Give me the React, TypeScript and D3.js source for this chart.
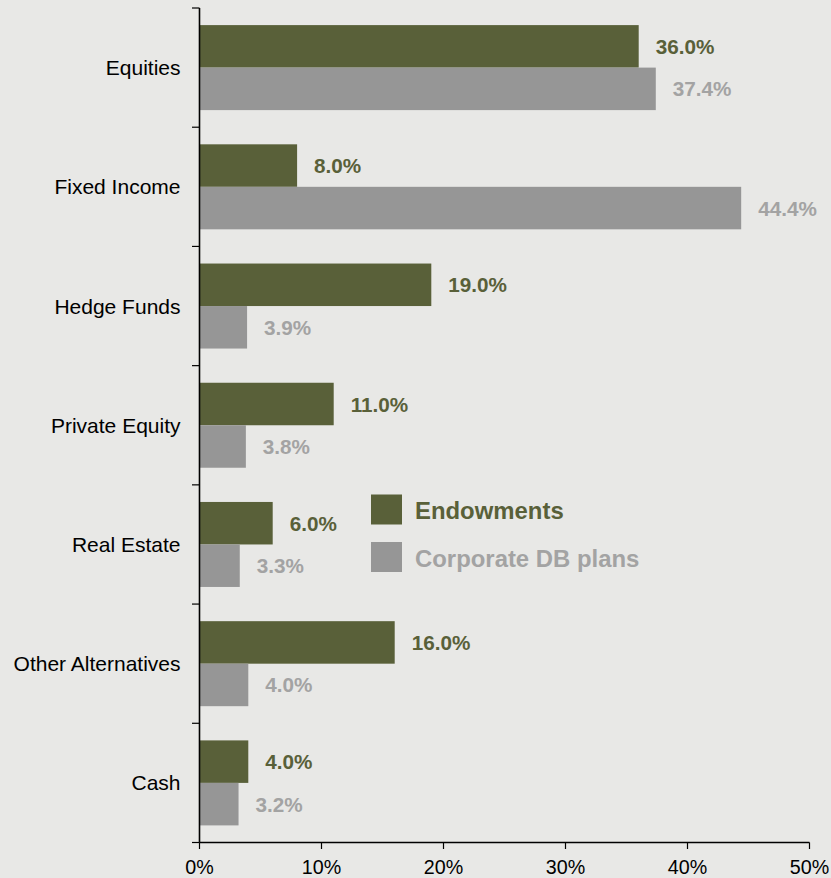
import React from "react";
import * as d3 from "d3";

const categories = ["Equities", "Fixed Income", "Hedge Funds", "Private Equity", "Real Estate", "Other Alternatives", "Cash"];
const endowments = [36.0, 8.0, 19.0, 11.0, 6.0, 16.0, 4.0];
const corporateDB = [37.4, 44.4, 3.9, 3.8, 3.3, 4.0, 3.2];
const seriesNames = ["Endowments", "Corporate DB plans"];
const xTicks = [0, 10, 20, 30, 40, 50];

const W = 831;
const H = 878;
const GREEN = "#596039";
const GRAY = "#969696";
const GRAY_TEXT = "#a3a3a3";
const BG = "#e8e8e6";
const FONT = "'Liberation Sans', Arial, sans-serif";

export default function App() {
  const x0 = 199.5;
  const x = d3.scaleLinear().domain([0, 50]).range([x0, 809.5]);
  const yTop = 8;
  const yBot = 842.5;
  const pI = 1 - 85 / ((yBot - yTop) / categories.length);
  const y = d3.scaleBand<string>().domain(categories).range([yTop, yBot]).paddingInner(pI).paddingOuter(pI / 2);
  const ys = d3.scaleBand<string>().domain(seriesNames).range([0, y.bandwidth()]);
  const step = y.step();
  const boundaries = d3.range(categories.length + 1).map((i) => yTop + i * step);
  const series = [
    { name: seriesNames[0], values: endowments, color: GREEN, text: GREEN },
    { name: seriesNames[1], values: corporateDB, color: GRAY, text: GRAY_TEXT },
  ];

  return (
    <svg width={W} height={H} style={{ position: "absolute", left: 0, top: 0, display: "block" }} fontFamily={FONT}>
      <rect x={0} y={0} width={W} height={H} fill={BG} />
      {series.map((s) =>
        categories.map((c, i) => {
          const by = (y(c) as number) + (ys(s.name) as number);
          const bh = ys.bandwidth();
          return (
            <g key={s.name + c}>
              <rect x={x(0)} y={by} width={x(s.values[i]) - x(0)} height={bh} fill={s.color} />
              <text x={x(s.values[i]) + 17} y={by + bh / 2 + 7.5} fontSize={20.7} fontWeight="bold" fill={s.text}>
                {s.values[i].toFixed(1) + "%"}
              </text>
            </g>
          );
        })
      )}
      {/* y axis */}
      <line x1={x0} x2={x0} y1={yTop} y2={yBot} stroke="#000" strokeWidth={1.6} />
      {boundaries.map((b, i) => (
        <line key={"yt" + i} x1={x0 - 7.5} x2={x0} y1={b} y2={b} stroke="#000" strokeWidth={1.2} />
      ))}
      {categories.map((c) => (
        <text key={"cl" + c} x={180.5} y={(y(c) as number) + y.bandwidth() / 2 + 7.5} textAnchor="end" fontSize={21} fill="#000">
          {c}
        </text>
      ))}
      {/* x axis */}
      <line x1={x0} x2={x(50)} y1={yBot} y2={yBot} stroke="#000" strokeWidth={1.6} />
      {xTicks.map((t) => (
        <g key={"xt" + t}>
          <line x1={x(t)} x2={x(t)} y1={yBot} y2={yBot + 6.5} stroke="#000" strokeWidth={1.2} />
          <text x={x(t)} y={874} textAnchor="middle" fontSize={19.7} fill="#000">
            {t + "%"}
          </text>
        </g>
      ))}
      {/* legend */}
      {series.map((s, i) => (
        <g key={"lg" + s.name}>
          <rect x={371} y={494.5 + i * 47.5} width={31} height={30} fill={s.color} />
          <text x={415} y={519 + i * 47.5} fontSize={23.9} fontWeight="bold" fill={s.text}>
            {s.name}
          </text>
        </g>
      ))}
    </svg>
  );
}
